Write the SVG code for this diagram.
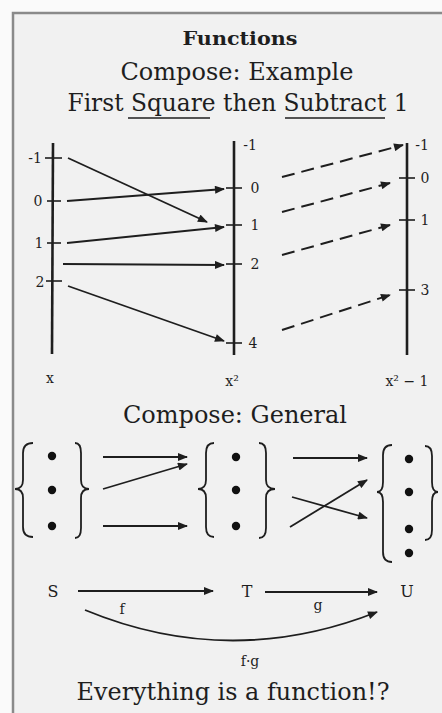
<svg xmlns="http://www.w3.org/2000/svg" width="442" height="713" viewBox="0 0 442 713">
<defs>
<style>
.t{font-family:"DejaVu Serif","Liberation Serif",serif;fill:#1e1e1e;}
.h{font-size:24px;text-anchor:middle;}
.s{font-size:14px;text-anchor:middle;}
.ax{stroke:#1e1e1e;stroke-width:2.6;fill:none;}
.tk{stroke:#1e1e1e;stroke-width:1.6;}
.ar{stroke:#1e1e1e;stroke-width:1.8;fill:none;marker-end:url(#ah);}
.da{stroke:#1e1e1e;stroke-width:2;fill:none;stroke-dasharray:13 7;marker-end:url(#ah);}
.br{stroke:#1e1e1e;stroke-width:1.8;fill:none;}
.dot{fill:#111;}
</style>
<marker id="ah" viewBox="0 0 10 8" refX="9" refY="4" markerWidth="11" markerHeight="8" markerUnits="userSpaceOnUse" orient="auto">
<path d="M0,0 L10,4 L0,8 Z" fill="#1e1e1e"/>
</marker>
</defs>
<rect x="0" y="0" width="442" height="713" fill="#fafafa"/>
<rect x="13" y="13" width="440" height="710" fill="#f1f1f1" stroke="#8a8a8a" stroke-width="2.5"/>

<g id="titles">
<text class="t" x="240" y="45" font-size="18" font-weight="bold" text-anchor="middle" textLength="115" lengthAdjust="spacingAndGlyphs">Functions</text>
<text class="t h" x="237" y="80" textLength="233" lengthAdjust="spacingAndGlyphs">Compose: Example</text>
<text class="t h" x="238" y="111" textLength="341" lengthAdjust="spacingAndGlyphs">First Square then Subtract 1</text>
<line x1="128" y1="118" x2="210" y2="118" stroke="#1e1e1e" stroke-width="1.5"/>
<line x1="285" y1="118" x2="385" y2="118" stroke="#1e1e1e" stroke-width="1.5"/>
</g>

<g id="axis-x">
<line class="ax" x1="53" y1="143" x2="52" y2="354"/>
<line class="tk" x1="45" y1="158" x2="62" y2="158"/>
<line class="tk" x1="47" y1="201" x2="61" y2="201"/>
<line class="tk" x1="47" y1="243" x2="61" y2="243"/>
<line class="tk" x1="46" y1="281" x2="62" y2="281"/>
<text class="t s" x="35" y="163">-1</text>
<text class="t s" x="38" y="206">0</text>
<text class="t s" x="39" y="248">1</text>
<text class="t s" x="40" y="287">2</text>
<text class="t s" x="50" y="383" font-size="13">x</text>
</g>

<g id="axis-x2">
<line class="ax" x1="234" y1="141" x2="234" y2="355"/>
<line class="tk" x1="226" y1="188" x2="242" y2="188"/>
<line class="tk" x1="226" y1="225" x2="242" y2="225"/>
<line class="tk" x1="226" y1="264" x2="242" y2="264"/>
<line class="tk" x1="226" y1="343" x2="242" y2="343"/>
<text class="t s" x="250" y="150">-1</text>
<text class="t s" x="255" y="193">0</text>
<text class="t s" x="255" y="230">1</text>
<text class="t s" x="255" y="269">2</text>
<text class="t s" x="253" y="348">4</text>
<text class="t s" x="232" y="386" font-size="13">x²</text>
</g>

<g id="axis-x2m1">
<line class="ax" x1="407" y1="143" x2="407" y2="355"/>
<line class="tk" x1="399" y1="178" x2="415" y2="178"/>
<line class="tk" x1="399" y1="220" x2="415" y2="220"/>
<line class="tk" x1="399" y1="290" x2="415" y2="290"/>
<text class="t s" x="422" y="150">-1</text>
<text class="t s" x="425" y="183">0</text>
<text class="t s" x="425" y="225">1</text>
<text class="t s" x="425" y="295">3</text>
<text class="t s" x="407" y="386" font-size="13">x² − 1</text>
</g>

<g id="connectors-square">
<line class="ar" x1="68" y1="158" x2="207" y2="222"/>
<line class="ar" x1="67" y1="201" x2="224" y2="189"/>
<line class="ar" x1="67" y1="243" x2="224" y2="227"/>
<line class="ar" x1="63" y1="264" x2="224" y2="265"/>
<line class="ar" x1="68" y1="286" x2="224" y2="341"/>
</g>

<g id="connectors-subtract">
<line class="da" x1="282" y1="177" x2="403" y2="145"/>
<line class="da" x1="282" y1="212" x2="390" y2="183"/>
<line class="da" x1="282" y1="255" x2="390" y2="225"/>
<line class="da" x1="282" y1="330" x2="390" y2="295"/>
</g>

<g id="heading-general">
<text class="t h" x="235" y="423" textLength="224" lengthAdjust="spacingAndGlyphs">Compose: General</text>
</g>

<g id="set-1">
<path class="br" d="M33 443 Q23 443 23 453 L23 480 Q23 489 15 489 Q23 489 23 498 L23 527 Q23 537 33 537"/>
<path class="br" d="M75 443 Q81 443 81 453 L81 480 Q81 489 89 489 Q81 489 81 498 L81 528 Q81 538 75 538"/>
<circle class="dot" cx="52" cy="456" r="4.2"/>
<circle class="dot" cx="52" cy="490" r="4.2"/>
<circle class="dot" cx="52" cy="526" r="4.2"/>
</g>

<g id="set-2">
<path class="br" d="M214 443 Q206 443 206 453 L206 480 Q206 489 198 489 Q206 489 206 498 L206 527 Q206 537 214 537"/>
<path class="br" d="M259 443 Q266 443 266 453 L266 480 Q266 489 275 489 Q266 489 266 498 L266 528 Q266 538 259 538"/>
<circle class="dot" cx="236" cy="457" r="4.2"/>
<circle class="dot" cx="236" cy="490" r="4.2"/>
<circle class="dot" cx="236" cy="526" r="4.2"/>
</g>

<g id="set-3">
<path class="br" d="M392 445 Q383 445 383 455 L383 482 Q383 492 377 492 Q383 492 383 502 L383 552 Q383 562 392 562"/>
<path class="br" d="M425 446 Q432 446 432 456 L432 482 Q432 492 438 492 Q432 492 432 502 L432 530 Q432 540 425 540"/>
<circle class="dot" cx="409" cy="459" r="4.2"/>
<circle class="dot" cx="409" cy="492" r="4.2"/>
<circle class="dot" cx="409" cy="529" r="4.2"/>
<circle class="dot" cx="409" cy="553" r="4.2"/>
</g>

<g id="connectors-general">
<line class="ar" x1="103" y1="457" x2="187" y2="457"/>
<line class="ar" x1="103" y1="489" x2="187" y2="464"/>
<line class="ar" x1="103" y1="526" x2="187" y2="526"/>
<line class="ar" x1="293" y1="458" x2="367" y2="458"/>
<line class="ar" x1="292" y1="497" x2="367" y2="518"/>
<line class="ar" x1="290" y1="527" x2="367" y2="480"/>
</g>

<g id="node-S"><text class="t" x="53" y="597" font-size="16" text-anchor="middle">S</text></g>
<g id="node-T"><text class="t" x="247" y="597" font-size="16" text-anchor="middle">T</text></g>
<g id="node-U"><text class="t" x="407" y="597" font-size="16" text-anchor="middle">U</text></g>

<g id="connectors-functions">
<line class="ar" x1="78" y1="591" x2="213" y2="591"/>
<line class="ar" x1="265" y1="592" x2="377" y2="592"/>
<path class="ar" d="M85 610 Q230 670 377 612"/>
<text class="t s" x="122" y="614">f</text>
<text class="t s" x="318" y="610">g</text>
<text class="t s" x="250" y="666">f·g</text>
</g>

<g id="footer">
<text class="t h" x="233" y="700" textLength="313" lengthAdjust="spacingAndGlyphs">Everything is a function!?</text>
</g>
</svg>
